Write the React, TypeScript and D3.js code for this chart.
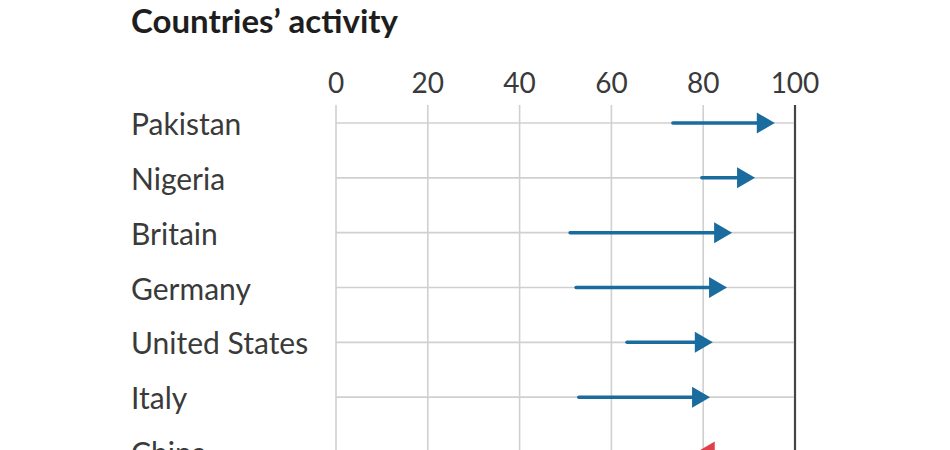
import React from "react";
import * as d3 from "d3";

const countries = ["Pakistan", "Nigeria", "Britain", "Germany", "United States", "Italy", "China"];
const startValues = [73.4, 79.7, 51.0, 52.3, 63.4, 52.9, 88.0];
const endValues = [95.6, 91.3, 86.3, 85.2, 82.1, 81.5, 78.6];
const tickValues = [0, 20, 40, 60, 80, 100];
const title = "Countries\u2019 activity";

const W = 950;
const H = 450;
const FONT = "Lato, 'Open Sans', sans-serif";

export default function App() {
  const x = d3.scaleLinear().domain([0, 100]).range([336, 795]);
  const y = d3.scalePoint<string>().domain(countries).range([123, 452]);
  const gridTop = 105;
  const headLen = 18;
  const headHalf = 10.5;

  return (
    <svg width={W} height={H} style={{ position: "absolute", left: 0, top: 0, background: "#fff" }}>
      <text x={131} y={33} fontFamily={FONT} fontWeight={700} fontSize={33} fill="#1e1e1e">
        {title}
      </text>
      {tickValues.map((t) => (
        <g key={t}>
          <line
            x1={x(t)}
            x2={x(t)}
            y1={gridTop}
            y2={H}
            stroke={t === 100 ? "#444" : "#d0d0d0"}
            strokeWidth={t === 100 ? 2.2 : 1.6}
          />
          <text x={x(t)} y={93} textAnchor="middle" fontFamily={FONT} fontSize={28} fill="#3a3a3a">
            {t}
          </text>
        </g>
      ))}
      {countries.map((c) => (
        <line key={"h" + c} x1={x(0)} x2={x(100) - 1} y1={y(c)!} y2={y(c)!} stroke="#d0d0d0" strokeWidth={1.6} />
      ))}
      {countries.map((c) => (
        <text key={"l" + c} x={131} y={y(c)! + 12} fontFamily={FONT} fontSize={30} fill="#3a3a3a">
          {c}
        </text>
      ))}
      {countries.map((c, i) => {
        const s = startValues[i];
        const e = endValues[i];
        const dir = e >= s ? 1 : -1;
        const color = dir > 0 ? "#1a6b9e" : "#e0404a";
        const cy = y(c)!;
        const xs = x(s);
        const xe = x(e);
        const back = xe - dir * headLen;
        return (
          <g key={"a" + c}>
            <line x1={xs} x2={back} y1={cy} y2={cy} stroke={color} strokeWidth={3.5} strokeLinecap="round" />
            <path d={`M${xe},${cy} L${back},${cy - headHalf} L${back},${cy + headHalf} Z`} fill={color} />
          </g>
        );
      })}
    </svg>
  );
}
